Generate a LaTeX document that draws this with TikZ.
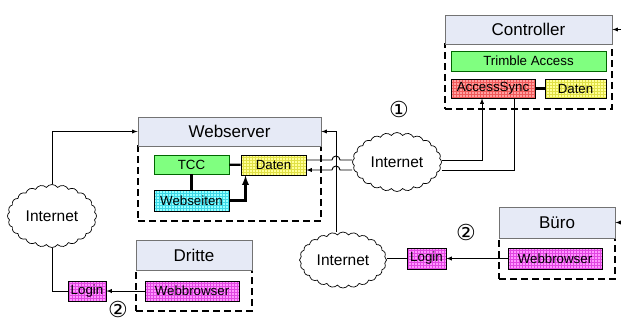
\documentclass[tikz,border=0pt]{standalone}
\usepackage{fontspec}
\setmainfont{Liberation Sans}
\newfontfamily\symfont{DejaVu Sans}
\usetikzlibrary{shapes.symbols,patterns}

\definecolor{headfill}{RGB}{230,234,246}
\definecolor{greenfill}{RGB}{128,255,128}
\definecolor{yellowfill}{RGB}{255,255,150}
\definecolor{yellowline}{RGB}{225,225,70}
\definecolor{redfill}{RGB}{255,160,160}
\definecolor{redline}{RGB}{240,90,90}
\definecolor{cyanfill}{RGB}{150,255,255}
\definecolor{cyanline}{RGB}{60,215,230}
\definecolor{pinkfill}{RGB}{255,150,255}
\definecolor{pinkline}{RGB}{225,70,225}

\tikzset{
	head/.style={draw=gray!90!black, fill=headfill, inner sep=0pt, line width=0.9pt, font=\fontsize{17}{19}\selectfont},
	group/.style={draw, dashed, dash pattern=on 7pt off 4pt, line width=1.1pt, inner sep=0pt},
	part/.style={draw, inner sep=0pt, line width=0.8pt, font=\fontsize{13.3}{15}\selectfont},
	greenpart/.style={part, draw=black!60!green, fill=greenfill},
	yellowpart/.style={part, preaction={fill=yellowfill}, pattern=grid, pattern color=yellowline},
	redpart/.style={part, preaction={fill=redfill}, pattern=grid, pattern color=redline},
	cyanpart/.style={part, preaction={fill=cyanfill}, pattern=grid, pattern color=cyanline},
	pinkpart/.style={part, preaction={fill=pinkfill}, pattern=grid, pattern color=pinkline},
	net/.style={cloud, draw, cloud ignores aspect, cloud puffs=24, cloud puff arc=110, inner sep=0pt, line width=0.7pt, font=\fontsize{15.5}{17}\selectfont},
	mark digit/.style={font=\symfont\fontsize{22}{24}\selectfont, inner sep=0pt}
}

\begin{document}
\begin{tikzpicture}[x=1pt, y=-1pt, >=latex, line width=0.9pt]
	\useasboundingbox (0,0) rectangle (621,322);

	% Controller
	\node[group, minimum width=167pt, minimum height=65pt] (ctrlgroup) at (528.5,76.5) {};
	\node[head, minimum width=167pt, minimum height=29pt] (ctrlhead) at (528.5,29.5) {Controller};
	\node[greenpart, minimum width=155pt, minimum height=20pt] (trimble) at (528.5,61) {Trimble Access};
	\node[redpart, minimum width=84pt, minimum height=19pt] (async) at (493,88.5) {AccessSync};
	\node[yellowpart, minimum width=61pt, minimum height=19pt] (ctrldata) at (575.5,88.5) {Daten};

	% Webserver
	\node[group, minimum width=183pt, minimum height=75pt] (wsgroup) at (229.5,183.5) {};
	\node[head, minimum width=183pt, minimum height=29pt] (wshead) at (229.5,131.5) {Webserver};
	\node[greenpart, minimum width=75pt, minimum height=19pt] (tcc) at (191.5,164.5) {TCC};
	\node[yellowpart, minimum width=65pt, minimum height=20pt] (wsdata) at (273.5,165) {Daten};
	\node[cyanpart, minimum width=75pt, minimum height=21pt] (pages) at (191.5,200.5) {Webseiten};

	% Buero
	\node[group, minimum width=116pt, minimum height=41pt] (burogroup) at (557,258.5) {};
	\node[head, minimum width=116pt, minimum height=31pt] (burohead) at (557,222.5) {Büro};
	\node[pinkpart, minimum width=94pt, minimum height=21pt] (burobrowser) at (555,258.5) {Webbrowser};
	\node[pinkpart, minimum width=39pt, minimum height=21pt] (burologin) at (426.5,258.5) {Login};

	% Dritte
	\node[group, minimum width=116pt, minimum height=41pt] (thirdgroup) at (194,290.5) {};
	\node[head, minimum width=116pt, minimum height=30pt] (thirdhead) at (194,255) {Dritte};
	\node[pinkpart, minimum width=94pt, minimum height=20pt] (thirdbrowser) at (192,291) {Webbrowser};
	\node[pinkpart, minimum width=38pt, minimum height=20pt] (thirdlogin) at (87,291) {Login};

	% Internet
	\node[net, minimum width=89pt, minimum height=59pt] (netsync) at (397,162) {Internet};
	\node[net, minimum width=87pt, minimum height=56pt] (netburo) at (343,260) {Internet};
	\node[net, minimum width=89pt, minimum height=63pt] (netthird) at (52,216) {Internet};

	\node[mark digit] (one) at (399,109) {①};
	\node[mark digit] (twoburo) at (466,232) {②};
	\node[mark digit] (twothird) at (118,309) {②};

	\coordinate (bus) at (336,0);
	\coordinate (ctrlin) at (621,29.5);
	\coordinate (buroin) at (621,222.5);

	% inside the boxes
	\draw[line width=2.2pt] (tcc) -- (wsdata);
	\draw[line width=2.2pt] (tcc) -- (pages);
	\draw[line width=2.2pt,->] (pages.east) -| ([xshift=-28pt]wsdata.south);
	\draw[line width=2.2pt] (async) -- (ctrldata);

	% sync over internet
	\draw ([yshift=5pt]wsdata.east) -- ([xshift=-4pt,yshift=5pt]wsdata.east -| bus)
		arc[start angle=180, end angle=0, radius=4pt] -- ([yshift=5pt]wsdata.east -| netsync.west);
	\draw[->] ([yshift=-5pt]wsdata.east -| netsync.west) -- ([xshift=4pt,yshift=-5pt]wsdata.east -| bus)
		arc[start angle=0, end angle=180, radius=4pt] -- ([yshift=-5pt]wsdata.east);
	\draw[->] ([yshift=5pt]wsdata.east -| netsync.east) -| ([xshift=-11pt]async.south);
	\draw ([yshift=-5pt]wsdata.east -| netsync.east) -| ([xshift=21pt]async.south);

	% logins
	\draw[->] (netburo.north -| bus) |- (wshead.east);
	\draw (burologin.west) -- (burologin.west -| netburo.east);
	\draw[->] (burobrowser.west) -- (burologin.east);
	\draw[->] (netthird.north) |- (wshead.west);
	\draw (netthird.south) |- (thirdlogin.west);
	\draw[->] (thirdbrowser.west) -- (thirdlogin.east);

	\draw[->] (ctrlin) -- (ctrlhead.east);
	\draw[->] (buroin) -- (burohead.east);
\end{tikzpicture}
\end{document}
